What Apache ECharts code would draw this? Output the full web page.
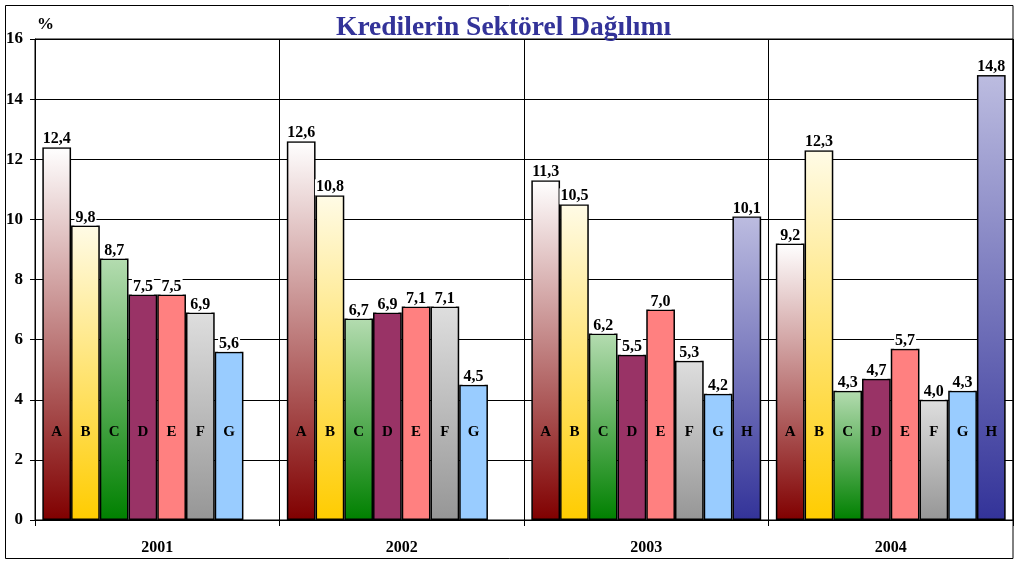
<!DOCTYPE html>
<html>
<head>
<meta charset="utf-8">
<script src="https://cdn.jsdelivr.net/npm/echarts@6/dist/echarts.min.js"></script>
<style>html,body{margin:0;padding:0;background:#fff;}#c{width:1020px;height:564px;}</style>
</head>
<body>
<div id="c"></div>
<script>
var years = ['2001', '2002', '2003', '2004'];
var sectors = ['A', 'B', 'C', 'D', 'E', 'F', 'G', 'H'];
var valuesA = [12.4, 12.6, 11.3, 9.2];
var valuesB = [9.8, 10.8, 10.5, 12.3];
var valuesC = [8.7, 6.7, 6.2, 4.3];
var valuesD = [7.5, 6.9, 5.5, 4.7];
var valuesE = [7.5, 7.1, 7.0, 5.7];
var valuesF = [6.9, 7.1, 5.3, 4.0];
var valuesG = [5.6, 4.5, 4.2, 4.3];
var valuesH = ['-', '-', 10.1, 14.8];
var yTicks = [0, 2, 4, 6, 8, 10, 12, 14, 16];

var seriesValues = [valuesA, valuesB, valuesC, valuesD, valuesE, valuesF, valuesG, valuesH];

function grad(top, bottom) {
  return new echarts.graphic.LinearGradient(0, 0, 0, 1, [
    {offset: 0, color: top}, {offset: 1, color: bottom}
  ]);
}
var fills = [
  grad('#ffffff', '#800000'),
  grad('#fffbe6', '#ffcc00'),
  grad('#b4dcb0', '#008000'),
  '#993366',
  '#ff8080',
  grad('#dedede', '#969696'),
  '#99ccff',
  grad('#bcbce0', '#333399')
];

var FONT = '"Liberation Serif", "Times New Roman", serif';
var series = [];
sectors.forEach(function (s, i) {
  series.push({
    name: s,
    type: 'bar',
    xAxisIndex: 0,
    data: seriesValues[i],
    barGap: '0%',
    barCategoryGap: '6%',
    itemStyle: {color: fills[i], borderColor: '#000', borderWidth: 1.5},
    label: {
      show: true, position: 'top', distance: 0,
      fontFamily: FONT, fontSize: 16, fontWeight: 'bold', color: '#000',
      backgroundColor: '#fff', padding: [0, 1, 0, 1],
      formatter: function (p) { return p.value.toFixed(1).replace('.', ','); }
    },
    silent: true
  });
});
sectors.forEach(function (s, i) {
  series.push({
    name: s + '_lbl',
    type: 'bar',
    xAxisIndex: 1,
    data: seriesValues[i],
    barGap: '0%',
    barCategoryGap: '6%',
    itemStyle: {color: 'rgba(0,0,0,0)', borderWidth: 0},
    label: {
      show: true, position: 'insideBottom', distance: 80,
      fontFamily: FONT, fontSize: 15, fontWeight: 'bold', color: '#000',
      formatter: function () { return s; }
    },
    z: 5,
    silent: true
  });
});

var chart = echarts.init(document.getElementById('c'), null, {renderer: 'canvas'});
chart.setOption({
  animation: false,
  backgroundColor: '#fff',
  title: {
    text: 'Kredilerin Sektörel Dağılımı',
    left: 331, top: 9,
    textStyle: {fontFamily: FONT, fontSize: 27.5, fontWeight: 'bold', color: '#333399'}
  },
  graphic: [{
    type: 'rect', silent: true, z: 100,
    shape: {x: 5.5, y: 5.5, width: 1007.5, height: 553},
    style: {fill: 'none', stroke: '#000', lineWidth: 1}
  }],
  grid: {left: 35, right: 7, top: 39, bottom: 44, show: true, borderColor: '#000', borderWidth: 1},
  xAxis: [{
    type: 'category', data: years,
    axisLine: {lineStyle: {color: '#000', width: 1}},
    axisTick: {show: true, length: 6, lineStyle: {color: '#000'}},
    splitLine: {show: true, interval: 0, lineStyle: {color: '#000', width: 1}},
    axisLabel: {margin: 20, fontFamily: FONT, fontSize: 16, fontWeight: 'bold', color: '#000'}
  }, {
    type: 'category', data: years, show: false
  }],
  yAxis: {
    type: 'value', min: yTicks[0], max: yTicks[yTicks.length - 1], interval: 2,
    name: '%', nameLocation: 'end', nameGap: 6,
    nameTextStyle: {fontFamily: FONT, fontSize: 17, fontWeight: 'bold', color: '#000', align: 'left', padding: [0, 0, 0, 2]},
    axisLine: {show: true, lineStyle: {color: '#000', width: 1}},
    axisTick: {show: true, length: 5, lineStyle: {color: '#000'}},
    splitLine: {show: true, lineStyle: {color: '#000', width: 1}},
    axisLabel: {margin: 12, fontFamily: FONT, fontSize: 17, fontWeight: 'bold', color: '#000'}
  },
  series: series
});
</script>
</body>
</html>
